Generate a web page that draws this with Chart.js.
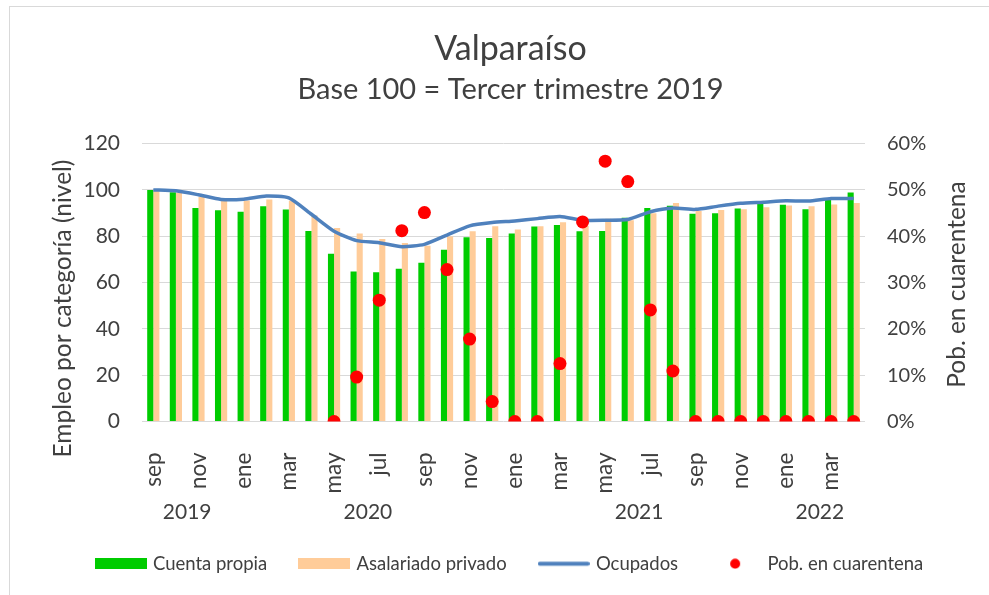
<!DOCTYPE html>
<html>
<head>
<meta charset="utf-8">
<script src="https://cdn.jsdelivr.net/npm/chart.js@4/dist/chart.umd.min.js"></script>
<style>
  html, body { margin: 0; padding: 0; background: #fff; }
  #wrap { position: relative; width: 989px; height: 595px; overflow: hidden; }
  #frame { position: absolute; left: 9px; top: 6px; width: 1200px; height: 800px; border: 1px solid #D9D9D9; box-sizing: border-box; }
  canvas { position: absolute; left: 0; top: 0; }
</style>
</head>
<body>
<div id="wrap">
  <div id="frame"></div>
  <canvas id="c" width="989" height="595"></canvas>
</div>
<script>
// ---- data ----
const months = ['sep','oct','nov','dic','ene','feb','mar','abr','may','jun','jul','ago',
                'sep','oct','nov','dic','ene','feb','mar','abr','may','jun','jul','ago',
                'sep','oct','nov','dic','ene','feb','mar','abr'];
const years = ['2019', '2020', '2021', '2022'];
const yearStart = [0, 4, 16, 28];
const yearEnd = [3, 15, 27, 31];

const cuentaPropia = [100, 99, 92.2, 91.2, 90.6, 92.9, 91.5, 82.3, 72.4, 64.8, 64.5, 66,
                      68.5, 74.2, 79.6, 79.2, 81.2, 84.2, 84.8, 82.1, 82.3, 88, 92.2, 93.2,
                      89.7, 89.9, 92, 93.9, 93.6, 91.7, 95.7, 98.9];
const asalariadoPrivado = [99.6, 98.8, 96.9, 95.4, 95.4, 95.9, 95.3, 89, 83.6, 81.2, 78.8, 77.1,
                           75.9, 79.9, 82.1, 84.3, 82.9, 84.3, 86, 84.5, 87.6, 86.9, 89.9, 94.4,
                           90.9, 91.3, 91.6, 92.5, 93.3, 92.9, 93.7, 94.3];
const ocupados = [100, 99.6, 97.9, 95.9, 96, 97.4, 96.6, 89.5, 82.2, 78.1, 77.2, 75.5,
                  76.5, 80.5, 84.5, 85.9, 86.6, 87.6, 88.5, 86.9, 86.9, 87.2, 90.6, 92.2,
                  91.6, 93, 94.2, 94.7, 95.3, 95.2, 96.3, 96.3];
const cuarentena = [null, null, null, null, null, null, null, null, 0, 9.6, 26.2, 41.2,
                    45.1, 32.8, 17.8, 4.3, 0, 0, 12.5, 43.1, 56.2, 51.8, 24.1, 10.9,
                    0, 0, 0, 0, 0, 0, 0, 0];

const leftTicks = [0, 20, 40, 60, 80, 100, 120];
const rightTicks = [0, 10, 20, 30, 40, 50, 60];

const titleText = 'Valparaíso';
const subtitleText = 'Base 100 = Tercer trimestre 2019';
const leftAxisTitle = 'Empleo por categoría (nivel)';
const rightAxisTitle = 'Pob. en cuarentena';
const seriesNames = ['Cuenta propia', 'Asalariado privado', 'Ocupados', 'Pob. en cuarentena'];

// ---- styles ----
const GREEN = '#00CC00', ORANGE = '#FFCC99', BLUE = '#4F81BD', RED = '#FF0000';
const TXT = '#404040';
const FONT = 'Lato';

function swatch(w, h, draw) {
  const c = document.createElement('canvas');
  c.width = w; c.height = h;
  draw(c.getContext('2d'));
  return c;
}
const swGreen = swatch(52, 11, g => { g.fillStyle = GREEN; g.fillRect(0, 0, 52, 11); });
const swOrange = swatch(52, 11, g => { g.fillStyle = ORANGE; g.fillRect(0, 0, 52, 11); });
const swBlue = swatch(52, 11, g => { g.strokeStyle = BLUE; g.lineWidth = 4; g.lineCap = 'round'; g.beginPath(); g.moveTo(2, 5.5); g.lineTo(50, 5.5); g.stroke(); });
const swRed = swatch(52, 11, g => { g.fillStyle = RED; g.beginPath(); g.arc(26, 5.5, 5, 0, Math.PI * 2); g.fill(); });
const swatches = [swGreen, swOrange, swBlue, swRed];

Chart.defaults.font.family = FONT;
Chart.defaults.color = TXT;

const extras = {
  id: 'extras',
  afterDraw(chart) {
    const ctx = chart.ctx;
    const x = chart.scales.x;
    const ca = chart.chartArea;
    ctx.save();
    ctx.fillStyle = TXT;
    // year labels
    ctx.font = '21px ' + FONT;
    ctx.textAlign = 'center';
    ctx.textBaseline = 'middle';
    years.forEach((y, i) => {
      const px = (x.getPixelForValue(yearStart[i]) + x.getPixelForValue(yearEnd[i])) / 2;
      ctx.fillText(y, px, ca.bottom + 91);
    });
    // axis titles
    ctx.font = '24.5px ' + FONT;
    ctx.save();
    ctx.translate(chart.scales.y.left + 31, (ca.top + ca.bottom) / 2 + 26);
    ctx.rotate(-Math.PI / 2);
    ctx.fillText(leftAxisTitle, 0, 0);
    ctx.restore();
    ctx.save();
    ctx.translate(chart.scales.y2.right - 32, (ca.top + ca.bottom) / 2 + 2);
    ctx.rotate(-Math.PI / 2);
    ctx.fillText(rightAxisTitle, 0, 0);
    ctx.restore();
    ctx.restore();
  }
};

new Chart(document.getElementById('c'), {
  type: 'bar',
  data: {
    labels: months,
    datasets: [
      { type: 'bar', label: seriesNames[0], data: cuentaPropia, backgroundColor: GREEN, yAxisID: 'y',
        categoryPercentage: 0.54, barPercentage: 1, order: 2 },
      { type: 'bar', label: seriesNames[1], data: asalariadoPrivado, backgroundColor: ORANGE, yAxisID: 'y',
        categoryPercentage: 0.54, barPercentage: 1, order: 3 },
      { type: 'line', label: seriesNames[2], data: ocupados, borderColor: BLUE, backgroundColor: BLUE,
        borderWidth: 3.5, pointRadius: 0, tension: 0.2, yAxisID: 'y', order: 1 },
      { type: 'line', label: seriesNames[3], data: cuarentena, showLine: false, pointRadius: 6.5,
        pointBackgroundColor: RED, pointBorderWidth: 0, backgroundColor: RED, borderColor: RED,
        yAxisID: 'y2', order: 0 }
    ]
  },
  options: {
    responsive: false,
    animation: false,
    layout: { padding: { left: 32, right: 0, top: 0, bottom: 12 } },
    plugins: {
      title: { display: true, text: titleText, font: { size: 34, weight: 'normal' }, color: TXT,
               padding: { top: 29, bottom: 2 } },
      subtitle: { display: true, text: subtitleText, font: { size: 29, weight: 'normal' }, color: TXT,
                  padding: { top: 0, bottom: 37 } },
      legend: {
        position: 'bottom',
        labels: {
          usePointStyle: true,
          pointStyleWidth: 46,
          boxHeight: 11,
          padding: 34,
          font: { size: 18.5 },
          color: TXT,
          sort: (a, b) => a.datasetIndex - b.datasetIndex,
          generateLabels(chart) {
            return chart.data.datasets.map((ds, i) => ({
              text: ds.label, datasetIndex: i, pointStyle: swatches[i],
              fillStyle: 'transparent', strokeStyle: 'transparent', lineWidth: 0, fontColor: TXT, hidden: false
            }));
          }
        }
      },
      tooltip: { enabled: false }
    },
    scales: {
      x: {
        grid: { display: false, drawTicks: false },
        border: { display: false },
        ticks: {
          autoSkip: false, minRotation: 90, maxRotation: 90, padding: 31,
          font: { size: 22.5 }, color: TXT,
          callback: (v, i) => (i % 2 === 0 ? months[i] : '')
        },
        afterFit(s) { s.height = 99; }
      },
      y: {
        position: 'left', min: 0, max: 120,
        afterBuildTicks(s) { s.ticks = leftTicks.map(v => ({ value: v })); },
        grid: { color: '#D9D9D9', lineWidth: 1, drawTicks: false },
        border: { display: false },
        ticks: { font: { size: 21 }, color: TXT, padding: 22 },
        afterFit(s) { s.width = 110; }
      },
      y2: {
        position: 'right', min: 0, max: 60,
        afterBuildTicks(s) { s.ticks = rightTicks.map(v => ({ value: v })); },
        grid: { display: false, drawTicks: false },
        border: { display: false },
        ticks: { font: { size: 20 }, color: TXT, padding: 22, callback: v => v + '%' },
        afterFit(s) { s.width = 124; }
      }
    }
  },
  plugins: [extras]
});
</script>
</body>
</html>
